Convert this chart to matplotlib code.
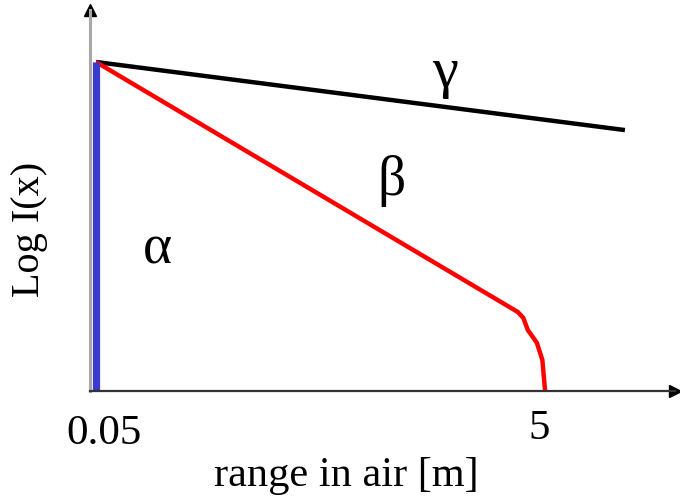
import matplotlib
matplotlib.use("Agg")
import matplotlib.pyplot as plt

# range in air (arbitrary data units, ticks at 0.05 and 5)
gamma_x = [0.05, 5.88]
gamma_y = [10.0, 7.93]

beta_x = [0.05, 4.70, 4.76, 4.81, 4.86, 4.91, 4.97, 5.0]
beta_y = [10.0, 2.40, 2.22, 1.85, 1.66, 1.46, 0.94, 0.0]

alpha_x = [0.05, 0.05]
alpha_y = [0.0, 10.0]

tick_pos = [0.05, 5]
tick_labels = ["0.05", "5"]

plt.rcParams["font.family"] = ["Liberation Serif", "DejaVu Serif"]

fig = plt.figure(figsize=(6.8, 5.0), dpi=100)
ax = fig.add_axes([0.1324, 0.218, 0.86, 0.762])

ax.plot(gamma_x, gamma_y, color="black", lw=3.2, solid_capstyle="butt")
ax.plot(beta_x, beta_y, color="#ff0000", lw=3.2, solid_capstyle="butt",
        solid_joinstyle="round")
ax.plot(alpha_x, alpha_y, color="#3a3acc", lw=5.2, solid_capstyle="butt")

ax.set_xlim(-0.016, 6.43)
ax.set_ylim(0, 11.58)

ax.text(3.90, 9.67, "γ", fontsize=42, ha="center", va="center")
ax.text(3.31, 6.38, "β", fontsize=40, ha="center", va="center")
ax.text(0.73, 4.3, "α", fontsize=40, ha="center", va="center")

for s in ["top", "right"]:
    ax.spines[s].set_visible(False)
ax.spines["left"].set_color("#a8a8a8")
ax.spines["left"].set_linewidth(2.2)
ax.spines["bottom"].set_color("#333333")
ax.spines["bottom"].set_linewidth(1.6)

# arrow heads
ax.plot(1, 0, ">", color="black", ms=9, transform=ax.transAxes, clip_on=False)
ax.plot(0, 1, "^", color="black", ms=9, transform=ax.transAxes, clip_on=False)

ax.set_xticks([])
ax.set_yticks([])

# tick labels sit a little off the tick positions in the original
offsets = [(6, -31), (-4, -27)]
for pos, lab, off in zip(tick_pos, tick_labels, offsets):
    ax.annotate(lab, xy=(pos, 0), xytext=off, textcoords="offset points",
                fontsize=31, ha="center", va="center", annotation_clip=False)

ax.text(0.4376, -0.223, "range in air [m]", fontsize=30.5, ha="center",
        va="center", transform=ax.transAxes)
ax.text(-0.103, 0.423, "Log I(x)", fontsize=29, rotation=90, ha="center",
        va="center", transform=ax.transAxes)

plt.savefig("out.png", dpi=100)
